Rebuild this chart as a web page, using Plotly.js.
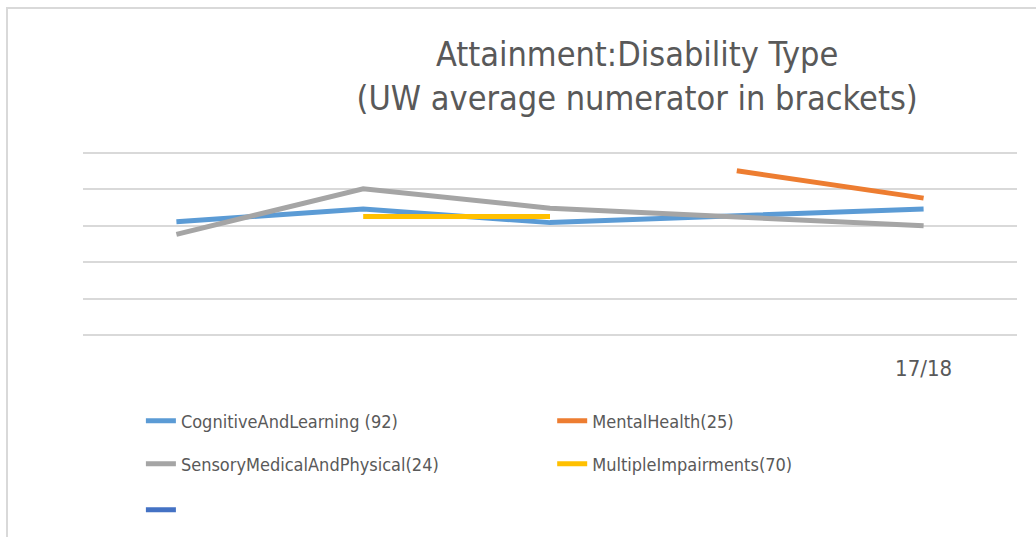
<!DOCTYPE html>
<html>
<head>
<meta charset="utf-8">
<script src="https://cdn.plot.ly/plotly-3.0.1.min.js"></script>
<style>
html,body{margin:0;padding:0;background:#fff;}
#wrap{position:relative;width:1036px;height:537px;overflow:hidden;}
#frame{position:absolute;left:6px;top:7px;width:1100px;height:600px;border-top:2px solid #d9d9d9;border-left:2px solid #d9d9d9;pointer-events:none;z-index:5;}
#chart{width:1036px;height:537px;}
</style>
</head>
<body>
<div id="wrap"><div id="frame"></div><div id="chart"></div></div>
<script>
// Data (arbitrary y units; the reference shows no y tick labels)
const categories = [1, 2, 3, 4, 5];
const tickLabels = ["", "", "", "", "17/18"];
const cognitiveAndLearning = [62.2, 69.2, 61.7, 65.4, 69.2];
const mentalHealth = [null, null, null, 90.1, 75.1];
const sensoryMedicalAndPhysical = [55.3, 80.2, 69.6, 64.7, 60.0];
const multipleImpairments = [null, 65.0, 65.0, null, null];
const unnamedSeries = [null, null, null, null, null];
const gridValues = [0, 20, 40, 60, 80, 100];
const seriesNames = ["CognitiveAndLearning (92)", "MentalHealth(25)", "SensoryMedicalAndPhysical(24)", "MultipleImpairments(70)", " "];

const font = "'Liberation Sans Narrow', 'DejaVu Sans Condensed', 'Roboto', sans-serif";
const colors = ["#5B9BD5", "#ED7D31", "#A5A5A5", "#FFC000", "#4472C4"];
const allY = [cognitiveAndLearning, mentalHealth, sensoryMedicalAndPhysical, multipleImpairments, unnamedSeries];
const legendIds = ["legend", "legend2", "legend3", "legend4", "legend5"];

const traces = allY.map((y, i) => ({
  type: "scatter",
  mode: "lines",
  x: categories,
  y: y,
  name: seriesNames[i],
  legend: legendIds[i],
  line: {color: colors[i], width: 5},
  connectgaps: false,
  hoverinfo: "skip"
}));

const legendFont = {family: font, size: 18, color: "#595959"};
function leg(x, y) {
  return {
    orientation: "h",
    xref: "container", yref: "container",
    x: x, xanchor: "left",
    y: y, yanchor: "middle",
    font: legendFont,
    bgcolor: "rgba(0,0,0,0)",
    borderwidth: 0
  };
}

const layout = {
  width: 1036,
  height: 537,
  paper_bgcolor: "#ffffff",
  plot_bgcolor: "#ffffff",
  margin: {l: 83, r: 19, t: 149, b: 198, autoexpand: false},
  title: {
    text: "Attainment:Disability Type<br>(UW average numerator in brackets)",
    font: {family: font, size: 34, color: "#595959"},
    x: 0.615, xanchor: "center",
    y: 0.877, yanchor: "middle"
  },
  xaxis: {
    range: [0.5, 5.5],
    tickvals: categories,
    ticktext: tickLabels,
    showgrid: false,
    zeroline: false,
    showline: false,
    ticks: "",
    tickfont: {family: font, size: 22, color: "#595959"},
    ticklabelstandoff: 14
  },
  yaxis: {
    range: [-2, 102],
    tickvals: gridValues,
    showticklabels: false,
    gridcolor: "#d9d9d9",
    gridwidth: 2,
    zeroline: false,
    showline: false,
    ticks: ""
  },
  showlegend: true,
  legend: leg(0.136, 0.216),
  legend2: leg(0.533, 0.216),
  legend3: leg(0.136, 0.136),
  legend4: leg(0.533, 0.136),
  legend5: leg(0.136, 0.050)
};

Plotly.newPlot("chart", traces, layout, {displayModeBar: false, staticPlot: true});
</script>
</body>
</html>
